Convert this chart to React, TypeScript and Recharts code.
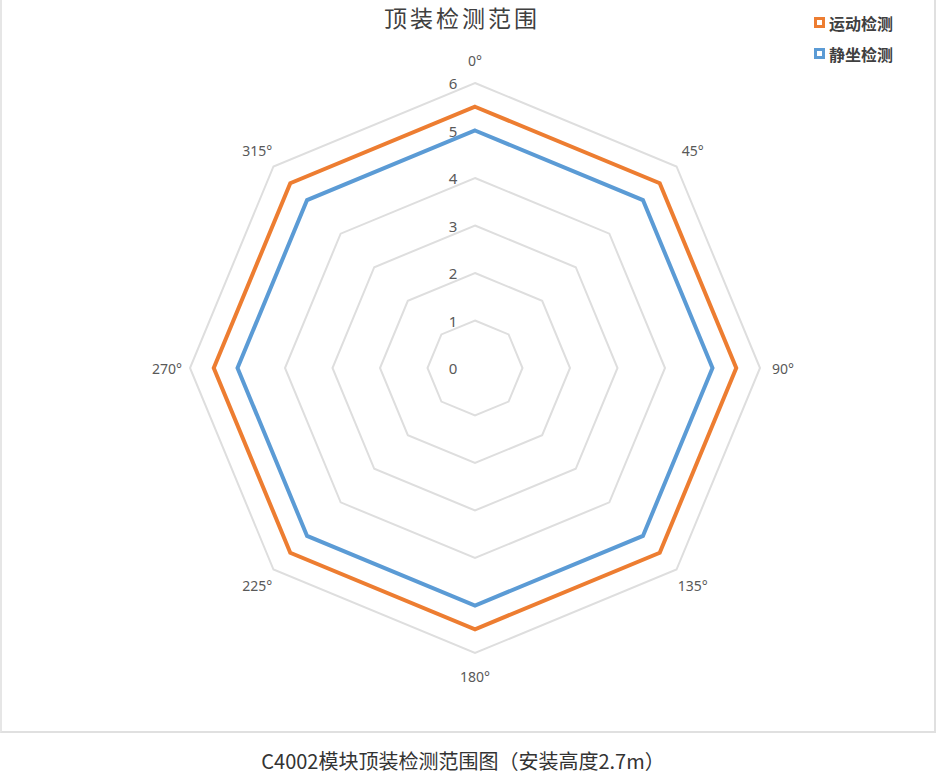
import { RadarChart, Radar, PolarGrid, PolarAngleAxis, PolarRadiusAxis, Legend } from 'recharts'

const ANGLES = ['0°', '45°', '90°', '135°', '180°', '225°', '270°', '315°']
const MOTION = [5.5, 5.5, 5.5, 5.5, 5.5, 5.5, 5.5, 5.5]
const SITTING = [5, 5, 5, 5, 5, 5, 5, 5]
const RADIUS_TICKS = [0, 1, 2, 3, 4, 5, 6]

const CX = 473
const CY = 368
const OUTER = 285

const FONT = '"Noto Sans", "Noto Sans CJK SC", sans-serif'
const CJK = '"Noto Sans CJK SC", "Noto Sans", sans-serif'

const data = ANGLES.map((angle, i) => ({ angle, motion: MOTION[i], sitting: SITTING[i] }))

const series = [
  { key: 'motion', name: '运动检测', color: '#ED7D31' },
  { key: 'sitting', name: '静坐检测', color: '#5B9BD5' },
]

const RadiusTick = ({ x, y, payload }: any) => (
  <text
    x={x - 22}
    y={y}
    textAnchor="middle"
    dominantBaseline="central"
    fontSize={15}
    fontFamily={FONT}
    fill="#595959"
  >
    {payload.value}
  </text>
)

const AngleTick = ({ payload }: any) => {
  const rad = (-payload.coordinate * Math.PI) / 180
  const r = OUTER + 23
  return (
    <text
      x={CX + r * Math.cos(rad)}
      y={CY + r * Math.sin(rad)}
      textAnchor="middle"
      dominantBaseline="central"
      fontSize={14}
      fontFamily={FONT}
      fill="#595959"
    >
      {payload.value}
    </text>
  )
}

const LegendContent = () => (
  <div style={{ fontFamily: CJK, fontSize: 16, fontWeight: 700, color: '#404040' }}>
    {series.map((s) => (
      <div key={s.key} style={{ display: 'flex', alignItems: 'center', height: 31 }}>
        <span
          style={{
            width: 5,
            height: 5,
            border: `3px solid ${s.color}`,
            background: '#fff',
            marginRight: 4,
          }}
        />
        <span>{s.name}</span>
      </div>
    ))}
  </div>
)

export default function App() {
  return (
    <div
      style={{
        position: 'absolute',
        left: 0,
        top: 0,
        width: 936,
        height: 775,
        background: '#fff',
      }}
    >
      <div
        style={{
          position: 'absolute',
          left: 0,
          top: 0,
          width: 932,
          height: 731,
          borderLeft: '2px solid #e6e6e6',
          borderRight: '2px solid #e0e0e0',
          borderBottom: '2px solid #e0e0e0',
        }}
      >
        <div
          style={{
            position: 'absolute',
            left: 0,
            width: 932,
            top: 0,
            textAlign: 'center',
            paddingRight: 12,
            boxSizing: 'border-box',
            fontFamily: CJK,
            fontSize: 23,
            letterSpacing: 3,
            color: '#404040',
            lineHeight: 'normal',
          }}
        >
          顶装检测范围
        </div>
        <RadarChart width={932} height={731} data={data} cx={CX} cy={CY} outerRadius={OUTER}>
          <PolarGrid gridType="polygon" radialLines={false} stroke="#dedede" strokeWidth={2} />
          <PolarAngleAxis dataKey="angle" tickLine={false} axisLine={false} tick={<AngleTick />} />
          <PolarRadiusAxis
            angle={90}
            domain={[0, 6]}
            ticks={RADIUS_TICKS as any}
            tickCount={7}
            axisLine={false}
            tickLine={false}
            tick={<RadiusTick />}
          />
          <Legend
            verticalAlign="top"
            align="right"
            content={<LegendContent />}
            wrapperStyle={{ top: 7, left: 812, width: 120 }}
          />
          {series.map((s) => (
            <Radar
              key={s.key}
              dataKey={s.key}
              name={s.name}
              stroke={s.color}
              strokeWidth={4}
              fill="none"
              fillOpacity={0}
              dot={false}
              isAnimationActive={false}
            />
          ))}
        </RadarChart>
      </div>
      <div
        style={{
          position: 'absolute',
          left: 0,
          width: 926,
          top: 747,
          textAlign: 'center',
          fontFamily: CJK,
          fontSize: 20,
          color: '#333',
          lineHeight: '28px',
        }}
      >
        C4002模块顶装检测范围图（安装高度2.7m）
      </div>
    </div>
  )
}
